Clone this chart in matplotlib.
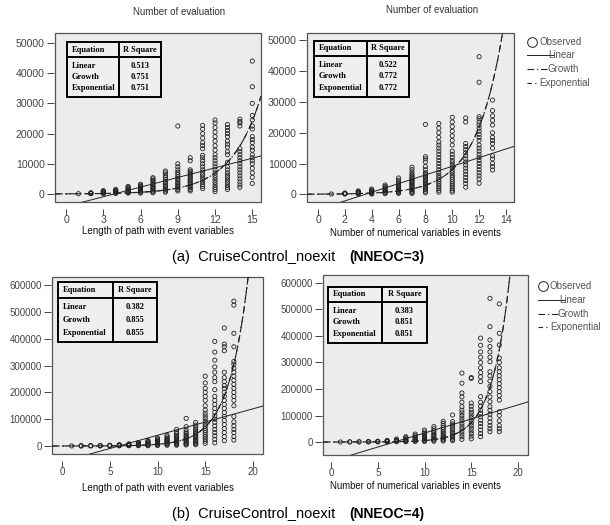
import matplotlib
matplotlib.use('Agg')
import matplotlib.pyplot as plt
from matplotlib.lines import Line2D
from matplotlib.patches import Rectangle
import numpy as np

plt.rcParams['font.family'] = ['Liberation Sans', 'DejaVu Sans']

W, H = 610, 525

# ---------------- data (values in thousands of evaluations) ----------------
p1_x = [1, 2, 3, 4, 5, 6, 7, 8, 9, 10, 11, 12, 13, 14, 15]
p1_vals_k = [
    [0.1],
    [0.1, 0.2, 0.3, 0.4],
    [0.1, 0.3, 0.5, 0.7, 0.9, 1.1],
    [0.2, 0.4, 0.6, 0.8, 1.0, 1.2, 1.5],
    [0.3, 0.5, 0.8, 1.0, 1.3, 1.6, 1.9, 2.2, 2.5],
    [0.3, 0.6, 0.9, 1.2, 1.5, 1.8, 2.1, 2.5, 2.9, 3.2],
    [0.4, 0.7, 1.0, 1.4, 1.8, 2.2, 2.6, 3.0, 3.5, 4.0, 4.5, 5.0, 5.4],
    [0.6, 1.0, 1.5, 2.0, 2.5, 3.0, 3.6, 4.2, 4.8, 5.5, 6.2, 7.0, 7.6],
    [1.0, 1.5, 2.0, 2.5, 3.0, 3.5, 4.0, 4.6, 5.2, 5.8, 6.5, 7.2, 8.0, 9.0, 10.0, 22.5],
    [1.0, 1.5, 2.0, 2.5, 3.0, 3.5, 4.0, 4.5, 5.0, 5.5, 6.0, 6.5, 7.0, 7.5, 8.0, 11.0, 12.0],
    [1.8, 2.5, 3.2, 4.0, 4.8, 5.6, 6.4, 7.2, 8.0, 9.0, 10.0, 11.0, 12.0, 12.8, 15.0, 16.0,
     17.0, 18.5, 20.0, 21.5, 22.7],
    [0.8, 1.5, 2.2, 3.0, 3.8, 4.6, 5.4, 6.2, 7.0, 8.0, 9.0, 10.0, 11.0, 12.0, 13.0, 14.5,
     16.0, 17.5, 19.0, 20.5, 22.0, 23.5, 24.5],
    [1.5, 2.2, 3.0, 3.8, 4.6, 5.4, 6.2, 7.0, 8.0, 9.0, 10.5, 13.0, 14.0, 15.5, 16.5, 17.5,
     19.0, 20.0, 21.0, 22.0, 23.0],
    [2.2, 3.0, 4.0, 5.0, 6.0, 7.0, 8.0, 9.0, 10.0, 11.0, 12.0, 13.0, 14.0, 15.0, 22.5, 23.5,
     24.0, 24.8],
    [3.5, 5.5, 7.0, 8.5, 10.0, 11.0, 12.0, 13.0, 14.5, 15.5, 17.0, 18.0, 19.0, 21.5, 22.5,
     24.5, 26.0, 30.0, 35.5, 44.0],
]

p2_x = [1, 2, 3, 4, 5, 6, 7, 8, 9, 10, 11, 12, 13]
p2_vals_k = [
    [0.1],
    [0.1, 0.2, 0.3, 0.4],
    [0.1, 0.3, 0.5, 0.7, 0.9, 1.1],
    [0.1, 0.3, 0.5, 0.7, 0.9, 1.1, 1.4, 1.7],
    [0.2, 0.5, 0.8, 1.1, 1.4, 1.8, 2.2, 2.6, 3.0],
    [0.3, 0.6, 0.9, 1.2, 1.5, 1.8, 2.2, 2.6, 3.0, 3.5, 4.0, 4.6, 5.3],
    [0.3, 0.6, 1.0, 1.4, 1.8, 2.2, 2.6, 3.0, 3.4, 3.8, 4.2, 4.6, 5.0, 5.5, 6.0, 6.5, 7.2,
     8.0, 8.8],
    [0.5, 1.0, 1.5, 2.0, 2.5, 3.0, 3.5, 4.0, 4.5, 5.0, 5.5, 6.0, 6.5, 7.0, 8.0, 9.0, 10.5,
     11.5, 12.2, 22.7],
    [0.7, 1.3, 2.0, 2.7, 3.4, 4.1, 4.8, 5.5, 6.2, 7.0, 8.0, 9.0, 10.0, 11.0, 12.0, 13.0,
     14.0, 15.0, 16.0, 17.0, 18.5, 20.0, 21.5, 23.0],
    [0.7, 1.3, 2.0, 2.7, 3.4, 4.1, 4.8, 5.5, 6.2, 7.0, 7.8, 8.6, 9.4, 10.2, 11.0, 12.0,
     13.0, 14.0, 16.0, 17.5, 19.0, 20.5, 22.0, 23.5, 25.0],
    [2.3, 3.5, 4.5, 5.5, 6.5, 7.5, 8.5, 9.5, 10.5, 11.5, 12.5, 13.5, 14.5, 15.5, 16.5,
     23.5, 24.8],
    [3.6, 5.0, 6.0, 7.0, 8.0, 9.0, 10.0, 11.0, 12.0, 13.0, 14.0, 15.0, 16.0, 17.5, 18.5,
     19.5, 20.5, 21.5, 22.5, 23.5, 24.5, 25.2, 36.4, 44.7],
    [7.9, 9.0, 10.0, 11.5, 12.5, 15.0, 16.5, 17.5, 18.5, 20.0, 22.5, 24.0, 25.5, 27.2, 30.6],
]

p3_x = [1, 2, 3, 4, 5, 6, 7, 8, 9, 10, 11, 12, 13, 14, 15, 16, 17, 18]
p3_vals_k = [
    [0.2],
    [0.3, 0.6, 1.0],
    [0.3, 0.8, 1.5],
    [0.4, 1.0, 2.0],
    [0.5, 1.5, 3.0],
    [0.6, 2.0, 3.5, 5.0],
    [1, 2.5, 4, 6, 8],
    [1, 3, 5, 7, 9, 11, 13],
    [1, 3, 5, 8, 11, 14, 17, 20],
    [2, 4, 7, 10, 13, 16, 19, 22, 26, 30],
    [3, 6, 9, 12, 15, 18, 21, 25, 29, 34, 40],
    [3, 6, 9, 12, 15, 18, 22, 26, 30, 35, 40, 46, 52, 62],
    [4, 7, 10, 14, 18, 22, 26, 30, 35, 40, 46, 52, 60, 72, 103],
    [5, 8, 12, 16, 20, 25, 30, 35, 40, 45, 50, 56, 62, 70, 78, 88],
    [10, 18, 26, 34, 42, 50, 58, 66, 74, 82, 92, 102, 112, 122, 134, 150, 170, 185, 200,
     215, 235, 260],
    [12, 25, 38, 50, 62, 75, 88, 100, 112, 125, 140, 155, 170, 185, 210, 240, 255, 275,
     295, 320, 350, 390],
    [20, 35, 50, 65, 80, 95, 110, 125, 140, 155, 170, 185, 200, 215, 225, 240, 255, 275,
     355, 370, 380, 440],
    [22, 35, 50, 62, 75, 90, 110, 150, 170, 185, 200, 215, 230, 245, 260, 275, 290, 305,
     315, 370, 420, 525, 540],
]

p4_x = [1, 2, 3, 4, 5, 6, 7, 8, 9, 10, 11, 12, 13, 14, 15, 16, 17, 18]
p4_vals_k = [
    [0.2],
    [0.3, 0.8],
    [0.3, 1.0],
    [0.4, 1.2, 2.0],
    [0.5, 1.5, 3.0],
    [0.6, 2.0, 4.0, 6.0],
    [1, 3, 5, 8, 11],
    [1, 3, 6, 9, 12, 16, 20],
    [2, 5, 8, 11, 15, 19, 24, 30],
    [2, 5, 9, 13, 17, 21, 26, 32, 38, 45],
    [3, 7, 11, 15, 20, 25, 30, 36, 42, 50, 58],
    [4, 8, 12, 17, 22, 28, 34, 40, 47, 54, 62, 70, 78],
    [5, 10, 15, 20, 26, 32, 38, 45, 52, 60, 68, 77, 102],
    [10, 20, 30, 40, 50, 60, 70, 80, 90, 100, 110, 120, 133, 150, 170, 185, 222, 260],
    [12, 22, 32, 42, 52, 62, 72, 82, 92, 102, 112, 122, 135, 147, 240, 243],
    [20, 32, 45, 58, 70, 82, 95, 108, 120, 135, 150, 171, 228, 246, 262, 280, 300, 320,
     340, 365, 392],
    [39, 50, 62, 75, 90, 105, 120, 133, 152, 170, 190, 210, 230, 250, 265, 303, 320, 340,
     360, 385, 435, 542],
    [39, 50, 62, 80, 100, 114, 158, 175, 190, 205, 220, 235, 250, 265, 280, 300, 317, 366,
     410, 521],
]

# fitted models: linear (intercept, slope), growth/exponential (a, b)
p1_linear = (-4100, 1063)
p1_exp = (46.8, 0.4165)
p2_linear = (-4950, 1405)
p2_exp = (53.5, 0.501)
p3_linear = (-58700, 9870)
p3_exp = (48.5, 0.486)
p4_linear = (-72000, 10600)
p4_exp = (30.0, 0.52)

equations = ['Linear', 'Growth', 'Exponential']
p1_r2 = ['0.513', '0.751', '0.751']
p2_r2 = ['0.522', '0.772', '0.772']
p3_r2 = ['0.382', '0.855', '0.855']
p4_r2 = ['0.383', '0.851', '0.851']

p1_xticks = [0, 3, 6, 9, 12, 15]
p2_xticks = [0, 2, 4, 6, 8, 10, 12, 14]
p34_xticks = [0, 5, 10, 15, 20]
top_yticks = [0, 10000, 20000, 30000, 40000, 50000]
bot_yticks = [0, 100000, 200000, 300000, 400000, 500000, 600000]

xlabel_path = 'Length of path with event variables'
xlabel_num = 'Number of numerical variables in events'
title_text = 'Number of evaluation'

# ---------------- figure ----------------
fig = plt.figure(figsize=(6.1, 5.25), dpi=100)


def fx(x):
    return x / W


def fy(y):
    return 1 - y / H


TXT = '#333333'
LINE = '#222222'


def make_ax(l, t, r, b, xlim, ylim, xticks, yticks, tsize):
    ax = fig.add_axes([fx(l), fy(b), (r - l) / W, (b - t) / H])
    ax.set_facecolor('#ececec')
    ax.patch.set_edgecolor('#555555')
    ax.patch.set_linewidth(0.9)
    for s in ['top', 'right']:
        ax.spines[s].set_visible(False)
    ax.spines['left'].set_position(('outward', 1))
    ax.spines['bottom'].set_position(('outward', 5))
    ax.spines['left'].set_color('none')
    ax.spines['bottom'].set_color('none')
    ax.set_xlim(*xlim)
    ax.set_ylim(*ylim)
    ax.set_xticks(xticks)
    ax.set_yticks(yticks)
    ax.set_yticklabels([str(v) for v in yticks])
    ax.tick_params(axis='y', length=5, width=0.7, color='#444444', labelsize=tsize,
                   labelcolor='#444444', pad=1.5)
    ax.tick_params(axis='x', length=4, width=0.7, color='#444444', labelsize=tsize,
                   labelcolor='#444444', pad=0.5)
    return ax


def draw_panel(ax, xs, vals_k, lin, ex):
    for x, v in zip(xs, vals_k):
        vv = np.array(v) * 1000.0
        ax.scatter([x] * len(vv), vv, s=9, facecolors='none', edgecolors='#222222',
                   linewidths=0.6, zorder=3)
    x0, x1 = ax.get_xlim()
    xx = np.linspace(x0, x1, 400)
    ax.plot(xx, lin[0] + lin[1] * xx, color=LINE, lw=0.7, zorder=4)
    ycurve = ex[0] * np.exp(ex[1] * xx)
    ax.plot(xx, ycurve, color=LINE, lw=0.8, dashes=(7, 2.5, 1.2, 2.5), zorder=4)
    ax.plot(xx, ycurve, color=LINE, lw=0.8, dashes=(5, 4), zorder=4)


def draw_table(l, t, r, b, div, hdr, r2):
    lw = 1.4
    fig.add_artist(Rectangle((fx(l), fy(b)), (r - l) / W, (b - t) / H, transform=fig.transFigure,
                             facecolor='#efefef', edgecolor='black', lw=lw, zorder=5))
    fig.add_artist(Line2D([fx(div), fx(div)], [fy(t), fy(b)], transform=fig.transFigure,
                          color='black', lw=lw, zorder=6))
    fig.add_artist(Line2D([fx(l), fx(r)], [fy(hdr), fy(hdr)], transform=fig.transFigure,
                          color='black', lw=lw, zorder=6))
    kw = dict(family=['Liberation Serif', 'DejaVu Serif'], fontweight='bold', fontsize=6,
              zorder=7, va='center')
    fig.text(fx(l + 5), fy((t + hdr) / 2), 'Equation', ha='left', **kw)
    fig.text(fx((div + r) / 2), fy((t + hdr) / 2), 'R Square', ha='center', **kw)
    rows_t = hdr + 3
    step = (b - 3 - rows_t) / 3
    for i, (eq, rv) in enumerate(zip(equations, r2)):
        yc = rows_t + step * (i + 0.5)
        fig.text(fx(l + 5), fy(yc), eq, ha='left', **kw)
        fig.text(fx((div + r) / 2), fy(yc), rv, ha='center', **kw)


def draw_legend(x, ys):
    fig.add_artist(Line2D([fx(x + 5)], [fy(ys[0])], transform=fig.transFigure, marker='o',
                          markersize=7, markerfacecolor='none', markeredgecolor='#222222',
                          markeredgewidth=0.7, linestyle='none'))
    tkw = dict(fontsize=7, color='#555555', va='center', ha='left')
    fig.text(fx(x + 12), fy(ys[0]), 'Observed', **tkw)
    fig.add_artist(Line2D([fx(x), fx(x + 27)], [fy(ys[1]), fy(ys[1])], transform=fig.transFigure,
                          color=LINE, lw=0.7))
    fig.text(fx(x + 21), fy(ys[1]), 'Linear', **tkw)
    fig.add_artist(Line2D([fx(x), fx(x + 20)], [fy(ys[2]), fy(ys[2])], transform=fig.transFigure,
                          color=LINE, lw=0.8, dashes=(6, 2.5, 1.2, 2.5)))
    fig.text(fx(x + 20), fy(ys[2]), 'Growth', **tkw)
    fig.add_artist(Line2D([fx(x), fx(x + 9)], [fy(ys[3]), fy(ys[3])], transform=fig.transFigure,
                          color=LINE, lw=0.8, dashes=(4, 3)))
    fig.text(fx(x + 12), fy(ys[3]), 'Exponential', **tkw)


# panel 1
ax1 = make_ax(55, 33, 261, 202, (-0.89, 15.7), (-2650, 53300), p1_xticks, top_yticks, 7.6)
draw_panel(ax1, p1_x, p1_vals_k, p1_linear, p1_exp)
draw_table(67, 42, 161, 97, 119, 57, p1_r2)
fig.text(fx(179), fy(12), title_text, fontsize=7, color=TXT, ha='center', va='center')
fig.text(fx(158), fy(231), xlabel_path, fontsize=7.1, color='#111111', ha='center', va='center')

# panel 2
ax2 = make_ax(307, 33, 514, 202, (-0.82, 14.6), (-2500, 52400), p2_xticks, top_yticks, 7.6)
draw_panel(ax2, p2_x, p2_vals_k, p2_linear, p2_exp)
draw_table(314, 41, 409, 97, 367, 56, p2_r2)
fig.text(fx(432), fy(10), title_text, fontsize=7, color=TXT, ha='center', va='center')
fig.text(fx(415), fy(233), xlabel_num, fontsize=6.9, color='#111111', ha='center', va='center')
draw_legend(527, [42, 55, 69, 83])

# panel 3
ax3 = make_ax(52, 277, 263, 454, (-1.05, 21.05), (-29800, 630000), p34_xticks, bot_yticks, 7)
draw_panel(ax3, p3_x, p3_vals_k, p3_linear, p3_exp)
draw_table(58, 282, 157, 342, 113, 298, p3_r2)
fig.text(fx(158), fy(488), xlabel_path, fontsize=7.1, color='#111111', ha='center', va='center')

# panel 4
ax4 = make_ax(323, 275, 528, 455, (-0.86, 21.07), (-49000, 630000), p34_xticks, bot_yticks, 7)
draw_panel(ax4, p4_x, p4_vals_k, p4_linear, p4_exp)
draw_table(328, 287, 427, 343, 382, 302, p4_r2)
fig.text(fx(415), fy(486), xlabel_num, fontsize=6.9, color='#111111', ha='center', va='center')
draw_legend(538, [286, 300, 314, 327])

# captions
fig.text(fx(172), fy(257), '(a)  CruiseControl_noexit', ha='left', fontsize=10.5,
         color='black', va='center')
fig.text(fx(349), fy(257), '(NNEOC=3)', ha='left', fontweight='bold', fontsize=10,
         color='black', va='center')
fig.text(fx(172), fy(514), '(b)  CruiseControl_noexit', ha='left', fontsize=10.5,
         color='black', va='center')
fig.text(fx(349), fy(514), '(NNEOC=4)', ha='left', fontweight='bold', fontsize=10,
         color='black', va='center')

fig.savefig('out.png', dpi=100)
